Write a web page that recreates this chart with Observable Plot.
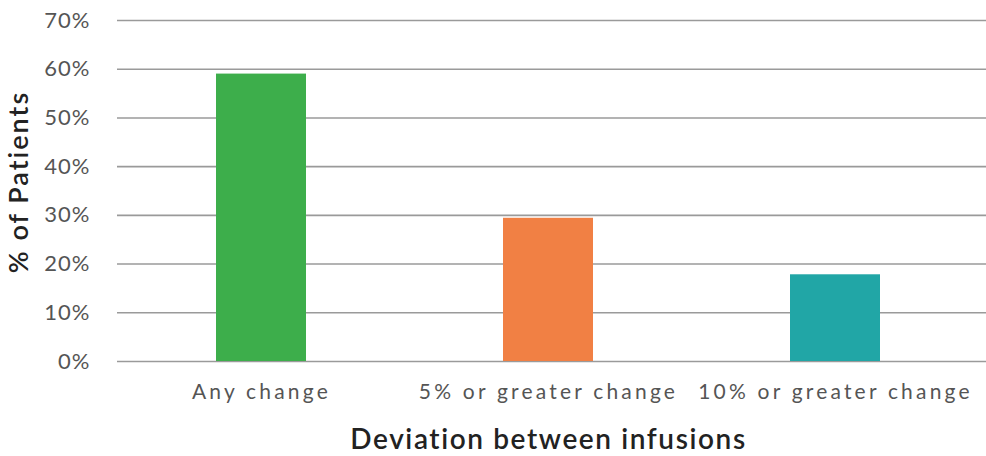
<!DOCTYPE html>
<html>
<head>
<meta charset="utf-8">
<script src="https://cdn.jsdelivr.net/npm/d3@7"></script>
<script src="https://cdn.jsdelivr.net/npm/@observablehq/plot@0.6"></script>
<style>
  html, body { margin: 0; padding: 0; background: #fff; }
  #chart svg { display: block; }
  g[aria-label="x-axis tick label"] text { letter-spacing: 3.2px; }
  g[aria-label="y-axis tick label"] text { letter-spacing: 1px; }
  g.xtitle text { letter-spacing: 1.6px; }
  g.ytitle text { letter-spacing: 2px; }
</style>
</head>
<body>
<div id="chart"></div>
<script>
const categories = ["Any change", "5% or greater change", "10% or greater change"];
const values = [0.59, 0.294, 0.178];
const colors = ["#3dae4b", "#f18044", "#21a6a6"];
const yTicks = [0, 0.1, 0.2, 0.3, 0.4, 0.5, 0.6, 0.7];
const xTitle = "Deviation between infusions";
const yTitle = "% of Patients";

const data = categories.map((c, i) => ({category: c, value: values[i], color: colors[i]}));

const chart = Plot.plot({
  width: 986,
  height: 456,
  marginLeft: 117,
  marginRight: 7,
  marginTop: 20,
  marginBottom: 95,
  style: {fontFamily: "Lato, 'Open Sans', sans-serif", background: "#fff"},
  x: {domain: categories, paddingInner: 0.688, paddingOuter: 0.344, label: null},
  y: {domain: [0, 0.7], ticks: yTicks, tickFormat: d3.format(".0%"), label: null},
  color: {type: "identity"},
  marks: [
    Plot.ruleY(yTicks, {stroke: "#9a9a9a", strokeWidth: 1.6, insetRight: -7}),
    Plot.barY(data, {x: "category", y: "value", fill: "color"}),
    Plot.axisX({tickSize: 0, tickPadding: 23, fontSize: 21, fill: "#555", label: null}),
    Plot.axisY({ticks: yTicks, tickSize: 0, tickPadding: 27, fontSize: 22, fill: "#555", label: null, tickFormat: d3.format(".0%")}),
    Plot.text([xTitle], {className: "xtitle", frameAnchor: "bottom", dy: 79, text: d => d, fontSize: 28, fontWeight: 600, fill: "#222", lineAnchor: "middle"}),
    Plot.text([yTitle], {className: "ytitle", frameAnchor: "left", textAnchor: "middle", dx: -98, dy: -9, rotate: -90, text: d => d, fontSize: 27, fontWeight: 600, fill: "#222", lineAnchor: "middle"})
  ]
});
document.getElementById("chart").appendChild(chart);
</script>
</body>
</html>
